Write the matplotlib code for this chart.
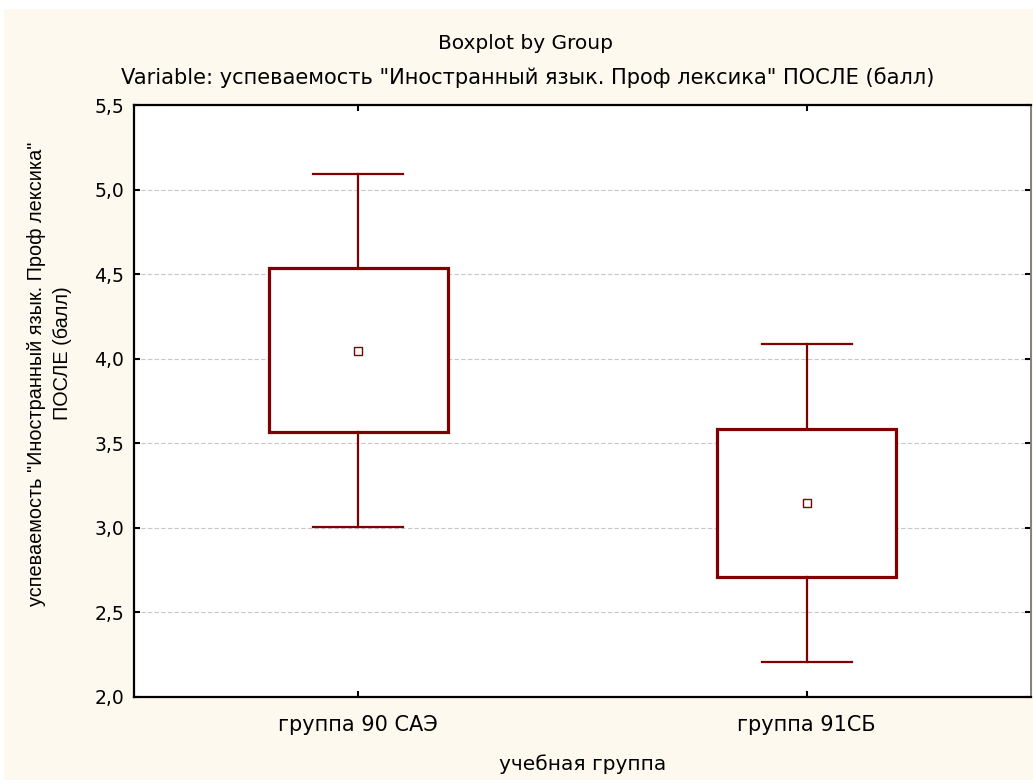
import matplotlib
matplotlib.use("Agg")
import matplotlib.pyplot as plt
from matplotlib.patches import Rectangle

plt.rcParams['font.family'] = ['DejaVu Sans']

groups = ["группа 90 САЭ", "группа 91СБ"]
means = [4.047, 3.148]
box_hi = [4.536, 3.585]
box_lo = [3.566, 2.712]
whisk_hi = [5.092, 4.086]
whisk_lo = [3.004, 2.209]
yticks = [2.0, 2.5, 3.0, 3.5, 4.0, 4.5, 5.0, 5.5]
ytick_labels = ["2,0", "2,5", "3,0", "3,5", "4,0", "4,5", "5,0", "5,5"]

title = "Boxplot by Group"
subtitle = 'Variable: успеваемость "Иностранный язык. Проф лексика" ПОСЛЕ (балл)'
ylab1 = 'успеваемость "Иностранный язык. Проф лексика"'
ylab2 = "ПОСЛЕ (балл)"
xlab = "учебная группа"

W, H = 1033, 780
fig = plt.figure(figsize=(W / 100, H / 100), dpi=100, facecolor='white')
# cream panel behind everything
fig.patches.append(Rectangle((4 / W, 0), 1, 1 - 9 / H, transform=fig.transFigure,
                             facecolor='#fdf9ee', edgecolor='none', zorder=-10))

ax = fig.add_axes([134 / W, 1 - 697 / H, (1031 - 134) / W, (697 - 105.3) / H])
ax.set_facecolor('white')

red = '#800000'
stats = []
for i in range(len(groups)):
    stats.append({'mean': means[i], 'med': means[i], 'q1': box_lo[i], 'q3': box_hi[i],
                  'whislo': whisk_lo[i], 'whishi': whisk_hi[i], 'fliers': []})

ax.bxp(stats, positions=range(len(groups)), widths=0.4, capwidths=0.2,
       showmeans=True, showfliers=False, patch_artist=True,
       boxprops=dict(facecolor='white', edgecolor=red, linewidth=2.3),
       whiskerprops=dict(color=red, linewidth=1.6),
       capprops=dict(color=red, linewidth=1.6),
       medianprops=dict(visible=False),
       meanprops=dict(marker='s', markersize=6, markerfacecolor='white',
                      markeredgecolor=red, markeredgewidth=1.0))

ax.set_xlim(-0.5, 1.5)
ax.set_ylim(2.0, 5.5)
ax.set_yticks(yticks)
ax.set_yticklabels(ytick_labels)
ax.set_xticks(range(len(groups)))
ax.set_xticklabels(groups)

ax.set_axisbelow(True)
ax.yaxis.grid(True, linestyle=(0, (4, 2)), color='#c8c8c8', linewidth=0.8)
ax.xaxis.grid(False)

ax.tick_params(axis='both', direction='in', length=4, width=1.5, color='black',
               top=True, right=True)
ax.tick_params(axis='y', pad=7, labelsize=13.5)
ax.tick_params(axis='x', pad=13, labelsize=15)

for s in ['left', 'top', 'bottom']:
    ax.spines[s].set_linewidth(1.6)
    ax.spines[s].set_color('black')
ax.spines['right'].set_linewidth(1.4)
ax.spines['right'].set_color('#808080')

ax.set_xlabel(xlab, fontsize=14.5, labelpad=14)

fig.text(525 / W, 1 - 49 / H, title, ha='center', va='baseline', fontsize=14.5)
fig.text(528 / W, 1 - 84 / H, subtitle, ha='center', va='baseline', fontsize=15.1)
fig.text(37 / W, 1 - 374 / H, ylab1, ha='center', va='center', rotation=90,
         fontsize=14.3, family='Liberation Sans')
fig.text(63 / W, 1 - 353 / H, ylab2, ha='center', va='center', rotation=90,
         fontsize=14.3, family='Liberation Sans')

fig.savefig("out.png", dpi=100, facecolor=fig.get_facecolor())
